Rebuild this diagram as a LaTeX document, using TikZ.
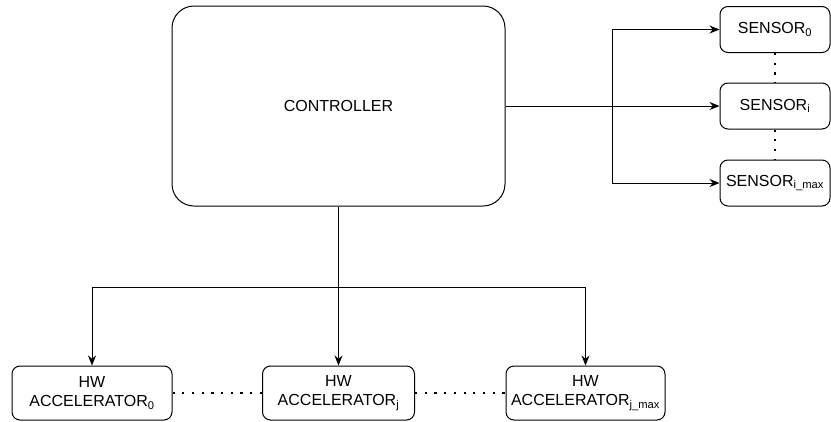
\documentclass[tikz,border=0pt]{standalone}
\usepackage{fontspec}
\setmainfont{Liberation Sans}
\usetikzlibrary{arrows.meta, positioning}

\begin{document}
\begin{tikzpicture}[x=1pt, y=-1pt, font=\fontsize{16}{19}\selectfont, line width=1pt,
    block/.style={draw, rounded corners=8pt, align=center, inner sep=0pt},
    link/.style={-{Stealth[length=10pt, width=8pt]}},
    gap/.style={line width=2.2pt, dash pattern=on 2.2pt off 7.5pt}]

\useasboundingbox (0,0) rectangle (831,421);

% controller
\node[block, rounded corners=22pt, minimum width=333pt, minimum height=200pt] (ctrl) at (338.5,106) {CONTROLLER};

% sensors
\foreach \name/\y/\idx in {s0/29.5/0, si/106/i, sm/183/i\_max} {
    \node[block, minimum width=110pt, minimum height=46pt] (\name) at (775,\y) {SENSOR\textsubscript{\idx}};
}

% accelerators
\node[block, minimum width=160pt, minimum height=54pt] (a0) at (92,393) {HW\\ACCELERATOR\textsubscript{0}};
\node[block, minimum width=152pt, minimum height=54pt] (aj) at (338.5,393) {HW\\ACCELERATOR\textsubscript{j}};
\node[block, minimum width=159pt, minimum height=54pt] (am) at (585.5,393) {HW\\ACCELERATOR\textsubscript{j\_max}};

\coordinate (split) at (612,106);
\coordinate (bus) at (338.5,287);

\draw[link] (ctrl.east) -- (si.west);
\draw[link] (split) |- (s0.west);
\draw[link] (split) |- (sm.west);

\draw (ctrl.south) -- (bus);
\draw[link] (bus) -| (a0.north);
\draw[link] (bus) -- (aj.north);
\draw[link] (bus) -| (am.north);

\draw[gap] (s0.south) -- (si.north);
\draw[gap] (si.south) -- (sm.north);
\draw[gap] (a0.east) -- (aj.west);
\draw[gap] (aj.east) -- (am.west);
\end{tikzpicture}
\end{document}
